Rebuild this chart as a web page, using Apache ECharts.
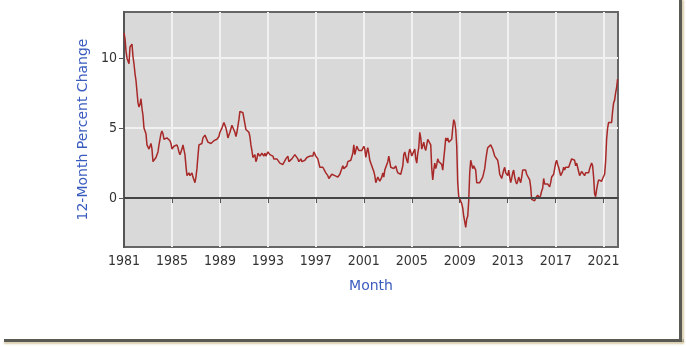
<!DOCTYPE html>
<html>
<head>
<meta charset="utf-8">
<script src="https://cdn.jsdelivr.net/npm/echarts@6/dist/echarts.min.js"></script>
<style>
  html, body { margin: 0; padding: 0; background: #fff; }
  #wrap { position: relative; width: 686px; height: 347px; overflow: hidden; }
  #chart { position: absolute; left: 0; top: 0; width: 686px; height: 347px; }
  .frame-b { position: absolute; left: 4px; top: 339px; width: 680px; height: 3px; background: #5a5a55; box-shadow: 0 2px 2px #d8ccaa; }
  .frame-r { position: absolute; left: 679px; top: 0; width: 3px; height: 342px; background: #5a5a55; box-shadow: 2px 0 2px #d8ccaa; }
</style>
</head>
<body>
<div id="wrap">
  <div id="chart"></div>
  <div class="frame-b"></div>
  <div class="frame-r"></div>
</div>
<script>
// 12-month percent change, monthly, Jan 1981 .. Mar 2022
const startYear = 1981
const cpi1980s = [
  11.8, 11.4, 10.5, 10.0, 9.8, 9.6, 10.8, 10.8, 11.0, 10.1, 9.6, 8.9,
  8.4, 7.6, 6.8, 6.5, 6.7, 7.1, 6.4, 5.9, 5.0, 5.1, 4.6, 3.8,
  3.7, 3.5, 3.6, 3.9, 3.5, 2.6, 2.5, 2.6, 2.9, 2.9, 3.3, 3.8,
  4.2, 4.6, 4.8, 4.6, 4.2, 4.2, 4.2, 4.3, 4.3, 4.3, 4.1, 3.9,
  3.5, 3.5, 3.7, 3.7, 3.8, 3.8, 3.6, 3.3, 3.1, 3.2, 3.5, 3.8,
  3.9, 3.1, 2.3, 1.6, 1.5, 1.8, 1.6, 1.6, 1.8, 1.5, 1.3, 1.1,
  1.5, 2.1, 3.0, 3.8, 3.9, 3.7, 3.9, 4.3, 4.4, 4.5, 4.5, 4.4,
  4.0, 3.9, 3.9, 3.9, 3.9, 4.0, 4.1, 4.0, 4.2, 4.2, 4.2, 4.4,
  4.7, 4.8, 5.0, 5.1, 5.4, 5.2, 5.0, 4.7, 4.3, 4.5, 4.7, 4.6
]
const cpi1990s = [
  5.2, 5.3, 5.2, 4.7, 4.4, 4.7, 4.8, 5.6, 6.2, 6.3, 6.3, 6.1,
  5.7, 5.3, 4.9, 4.9, 5.0, 4.7, 4.4, 3.8, 3.4, 2.9, 3.0, 3.1,
  2.6, 2.8, 3.2, 3.2, 3.0, 3.1, 3.2, 3.1, 3.0, 3.2, 3.0, 2.9,
  3.3, 3.2, 3.1, 3.2, 3.2, 3.0, 2.8, 2.8, 2.7, 2.8, 2.7, 2.7,
  2.5, 2.5, 2.5, 2.4, 2.3, 2.5, 2.8, 2.9, 3.0, 2.6, 2.7, 2.7,
  2.8, 2.9, 2.9, 3.1, 3.2, 3.0, 2.8, 2.6, 2.5, 2.8, 2.6, 2.5,
  2.7, 2.7, 2.8, 2.9, 2.9, 2.8, 3.0, 2.9, 3.0, 3.0, 3.3, 3.3,
  3.0, 3.0, 2.8, 2.5, 2.2, 2.3, 2.2, 2.2, 2.2, 2.1, 1.8, 1.7,
  1.6, 1.4, 1.4, 1.4, 1.7, 1.7, 1.7, 1.6, 1.5, 1.5, 1.5, 1.6,
  1.7, 1.6, 1.7, 2.3, 2.1, 2.0, 2.1, 2.3, 2.6, 2.6, 2.6, 2.7
]
const cpi2000s = [
  2.7, 3.2, 3.8, 3.1, 3.2, 3.7, 3.7, 3.4, 3.5, 3.4, 3.4, 3.4,
  3.7, 3.5, 2.9, 3.3, 3.6, 3.2, 2.7, 2.7, 2.6, 2.1, 1.9, 1.6,
  1.1, 1.1, 1.5, 1.6, 1.2, 1.1, 1.5, 1.8, 1.5, 2.0, 2.2, 2.4,
  2.6, 3.0, 3.0, 2.2, 2.1, 2.1, 2.1, 2.2, 2.3, 2.0, 1.8, 1.9,
  1.9, 1.7, 1.7, 2.3, 3.1, 3.3, 3.0, 2.7, 2.5, 3.2, 3.5, 3.3,
  3.0, 3.0, 3.1, 3.5, 2.8, 2.5, 3.2, 3.6, 4.7, 4.3, 3.5, 3.4,
  4.0, 3.6, 3.4, 3.5, 4.2, 4.3, 4.1, 3.8, 2.1, 1.3, 2.0, 2.5,
  2.1, 2.4, 2.8, 2.6, 2.7, 2.7, 2.4, 2.0, 2.8, 3.5, 4.3, 4.1,
  4.3, 4.0, 4.0, 3.9, 4.2, 5.0, 5.6, 5.4, 4.9, 3.7, 1.1, 0.1,
  0.0, 0.2, -0.4, -0.7, -1.3, -1.4, -2.1, -1.5, -1.3, -0.2, 1.8, 2.7
]
const cpi2010s = [
  2.6, 2.1, 2.3, 2.2, 2.0, 1.1, 1.2, 1.1, 1.1, 1.2, 1.1, 1.5,
  1.6, 2.1, 2.7, 3.2, 3.6, 3.6, 3.6, 3.8, 3.9, 3.5, 3.4, 3.0,
  2.9, 2.9, 2.7, 2.3, 1.7, 1.7, 1.4, 1.7, 2.0, 2.2, 1.8, 1.7,
  1.6, 2.0, 1.5, 1.1, 1.4, 1.8, 2.0, 1.5, 1.2, 1.0, 1.2, 1.5,
  1.6, 1.1, 1.5, 2.0, 2.1, 2.1, 2.0, 1.7, 1.7, 1.7, 1.3, 0.8,
  -0.1, 0.0, -0.1, -0.2, 0.0, 0.1, 0.2, 0.2, 0.0, 0.2, 0.5, 0.7,
  1.4, 1.0, 0.9, 1.1, 1.0, 1.0, 0.8, 1.1, 1.5, 1.6, 1.7, 2.1,
  2.5, 2.7, 2.4, 2.2, 1.9, 1.6, 1.7, 1.9, 2.2, 2.0, 2.2, 2.1,
  2.1, 2.2, 2.4, 2.5, 2.8, 2.9, 2.9, 2.7, 2.3, 2.5, 2.2, 1.9,
  1.6, 1.5, 1.9, 2.0, 1.8, 1.6, 1.8, 1.7, 1.7, 1.8, 2.1, 2.3
]
const cpi2020s = [
  2.5, 2.3, 1.5, 0.3, 0.1, 0.6, 1.0, 1.3, 1.4, 1.2, 1.2, 1.4,
  1.4, 1.7, 2.6, 4.2, 5.0, 5.4, 5.4, 5.3, 5.4, 6.2, 6.8, 7.0,
  7.5, 7.9, 8.5
]
const yearTicks = [1981, 1985, 1989, 1993, 1997, 2001, 2005, 2009, 2013, 2017, 2021]
const valueTicks = [0, 5, 10]

const allValues = [].concat(cpi1980s, cpi1990s, cpi2000s, cpi2010s, cpi2020s)
const seriesData = allValues.map((v, i) => [startYear + i / 12, v])

const labelFont = "'DejaVu Sans Condensed', 'DejaVu Sans', sans-serif"
const nameFont = "'DejaVu Sans', sans-serif"
const nameColor = '#3a5cbf'

const chart = echarts.init(document.getElementById('chart'))
const option = {
  backgroundColor: 'transparent',
  animation: false,
  grid: {
    left: 124,
    right: 68,
    top: 12,
    bottom: 100,
    show: true,
    backgroundColor: '#d9d9d9',
    borderColor: '#666',
    borderWidth: 2
  },
  xAxis: {
    type: 'value',
    min: 1981,
    max: 2022.2,
    interval: 4,
    name: 'Month',
    nameLocation: 'middle',
    nameGap: 32,
    nameTextStyle: { color: nameColor, fontSize: 14, fontFamily: nameFont },
    axisLine: { show: true, lineStyle: { color: '#555', width: 2 } },
    axisTick: { show: true, length: 5, lineStyle: { color: '#555' }, customValues: yearTicks },
    axisLabel: {
      color: '#333',
      fontSize: 14,
      fontFamily: labelFont,
      margin: 7,
      customValues: yearTicks,
      formatter: v => String(Math.round(v))
    },
    splitLine: { show: true, lineStyle: { color: '#f1f1f1', width: 2 } }
  },
  yAxis: {
    type: 'value',
    min: -3.5,
    max: 13.3,
    splitNumber: 3,
    name: '12-Month Percent Change',
    nameLocation: 'middle',
    nameGap: 22,
    nameRotate: 90,
    nameTextStyle: { color: nameColor, fontSize: 14, fontFamily: nameFont },
    axisLine: { show: true, lineStyle: { color: '#555', width: 2 } },
    axisTick: { show: true, length: 5, lineStyle: { color: '#555' }, customValues: valueTicks },
    axisLabel: {
      color: '#333',
      fontSize: 14,
      fontFamily: labelFont,
      margin: 7,
      customValues: valueTicks
    },
    splitLine: { show: true, lineStyle: { color: '#f1f1f1', width: 2 } }
  },
  series: [{
    type: 'line',
    data: seriesData,
    showSymbol: false,
    lineStyle: { color: '#a82828', width: 1.5 },
    markLine: {
      silent: true,
      symbol: 'none',
      label: { show: false },
      lineStyle: { color: '#444', width: 2, type: 'solid' },
      data: [{ yAxis: 0 }]
    }
  }]
}
chart.setOption(option)
</script>
</body>
</html>
